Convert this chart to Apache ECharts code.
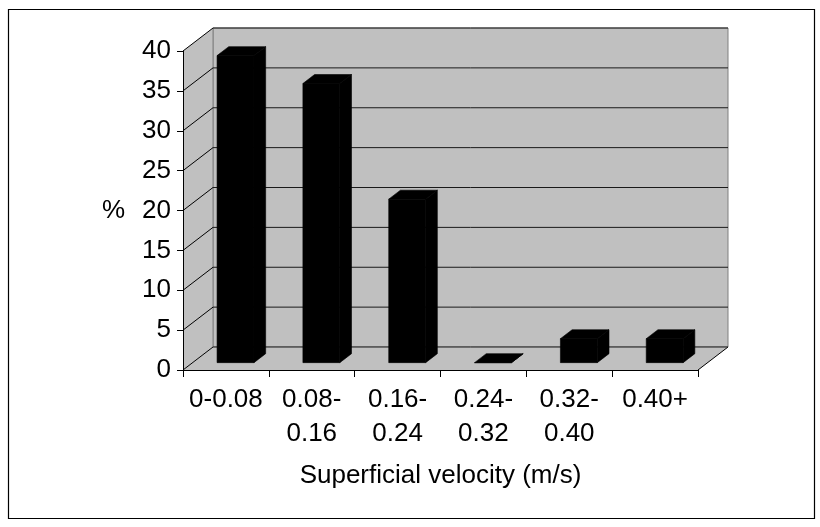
<!DOCTYPE html>
<html>
<head>
<meta charset="utf-8">
<script src="https://cdn.jsdelivr.net/npm/echarts@6/dist/echarts.min.js"></script>
<style>
html,body{margin:0;padding:0;background:#fff;}
#main{width:820px;height:527px;}
</style>
</head>
<body>
<div id="main"></div>
<script>
// ---- data ----
var categories = ['0-0.08', '0.08-\n0.16', '0.16-\n0.24', '0.24-\n0.32', '0.32-\n0.40', '0.40+'];
var percentValues = [38.5, 35, 20.5, 0, 3, 3];
var yTicks = [0, 5, 10, 15, 20, 25, 30, 35, 40];
var xTitle = 'Superficial velocity (m/s)';
var yTitle = '%';

// ---- style constants ----
var DX = 30, DY = -23;            // depth offset of the 3D box
var BAR_F0 = 0.32, BAR_F1 = 0.71; // bar depth range (fraction of box depth)
var BAR_W = 0.43;                 // bar width as fraction of category band
var FONT = 'Liberation Sans, Arial, sans-serif';
var WALL = '#c0c0c0';

var chart = echarts.init(document.getElementById('main'), null, {renderer: 'canvas'});

var barData = percentValues.map(function (v, i) { return [i, v]; });
var tickData = yTicks.map(function (v) { return [0, v]; });

var option = {
  animation: false,
  backgroundColor: '#fff',
  grid: {left: 183, top: 51, width: 515, height: 319, containLabel: false},
  xAxis: {
    type: 'category',
    data: categories,
    z: 10,
    axisLine: {show: true, lineStyle: {color: '#000', width: 1}},
    axisTick: {show: true, length: 7, lineStyle: {color: '#000'}},
    axisLabel: {color: '#000', fontFamily: FONT, fontSize: 26, lineHeight: 34, margin: 13, interval: 0},
    splitLine: {show: false},
    name: xTitle,
    nameLocation: 'middle',
    nameGap: 93,
    nameTextStyle: {color: '#000', fontFamily: FONT, fontSize: 26}
  },
  yAxis: {
    type: 'value',
    min: 0, max: 40, interval: 5,
    z: 10,
    axisLine: {show: true, lineStyle: {color: '#000', width: 1}},
    axisTick: {show: true, length: 6, lineStyle: {color: '#000'}},
    axisLabel: {color: '#000', fontFamily: FONT, fontSize: 26, margin: 12},
    splitLine: {show: false},
    name: yTitle,
    nameLocation: 'middle',
    nameRotate: 0,
    nameGap: 58,
    nameTextStyle: {color: '#000', fontFamily: FONT, fontSize: 26}
  },
  graphic: [{
    type: 'rect',
    shape: {x: 8.5, y: 9.5, width: 806, height: 509},
    style: {fill: 'none', stroke: '#000', lineWidth: 1.2},
    z: 100
  }],
  series: [
    {
      // walls and floor of the 3D box
      type: 'custom',
      z: 1,
      silent: true,
      data: [[0, 0]],
      renderItem: function (params, api) {
        var cs = params.coordSys;
        var x0 = cs.x, x1 = cs.x + cs.width, yT = cs.y, yB = cs.y + cs.height;
        return {
          type: 'group',
          children: [
            {type: 'rect', shape: {x: x0 + DX, y: yT + DY, width: cs.width, height: cs.height},
              style: {fill: WALL, stroke: '#808080', lineWidth: 1}},
            {type: 'polygon', shape: {points: [[x0, yT], [x0 + DX, yT + DY], [x0 + DX, yB + DY], [x0, yB]]},
              style: {fill: WALL, stroke: null}},
            {type: 'polygon', shape: {points: [[x0, yB], [x0 + DX, yB + DY], [x1 + DX, yB + DY], [x1, yB]]},
              style: {fill: WALL, stroke: null}},
            {type: 'line', shape: {x1: x0 + DX, y1: yT + DY, x2: x0 + DX, y2: yB + DY},
              style: {stroke: '#808080', lineWidth: 1}},
            {type: 'line', shape: {x1: x1, y1: yB, x2: x1 + DX, y2: yB + DY},
              style: {stroke: '#000', lineWidth: 1}}
          ]
        };
      }
    },
    {
      // gridlines on back wall + diagonals on side wall
      type: 'custom',
      z: 2,
      silent: true,
      data: tickData,
      renderItem: function (params, api) {
        var cs = params.coordSys;
        var y = api.coord([0, api.value(1)])[1];
        var x0 = cs.x, x1 = cs.x + cs.width;
        return {
          type: 'group',
          children: [
            {type: 'line', shape: {x1: x0 + DX, y1: y + DY, x2: x1 + DX, y2: y + DY},
              style: {stroke: '#1a1a1a', lineWidth: 1}},
            {type: 'line', shape: {x1: x0, y1: y, x2: x0 + DX, y2: y + DY},
              style: {stroke: '#000', lineWidth: 1}}
          ]
        };
      }
    },
    {
      // 3D bars
      type: 'custom',
      z: 3,
      data: barData,
      renderItem: function (params, api) {
        var idx = api.value(0), v = api.value(1);
        var base = api.coord([idx, 0]);
        var top = api.coord([idx, v]);
        var w = api.size([1, 0])[0] * BAR_W;
        var xl = base[0] - w / 2, xr = base[0] + w / 2;
        var ox0 = BAR_F0 * DX, oy0 = BAR_F0 * DY, ox1 = BAR_F1 * DX, oy1 = BAR_F1 * DY;
        var yb = base[1], yt = top[1];
        var st = {fill: '#000', stroke: '#000', lineWidth: 0.6, lineJoin: 'miter'};
        return {
          type: 'group',
          children: [
            {type: 'polygon', shape: {points: [[xl + ox0, yt + oy0], [xr + ox0, yt + oy0], [xr + ox0, yb + oy0], [xl + ox0, yb + oy0]]}, style: st},
            {type: 'polygon', shape: {points: [[xl + ox0, yt + oy0], [xl + ox1, yt + oy1], [xr + ox1, yt + oy1], [xr + ox0, yt + oy0]]}, style: st},
            {type: 'polygon', shape: {points: [[xr + ox0, yt + oy0], [xr + ox1, yt + oy1], [xr + ox1, yb + oy1], [xr + ox0, yb + oy0]]}, style: st}
          ]
        };
      }
    }
  ]
};
chart.setOption(option);
</script>
</body>
</html>
